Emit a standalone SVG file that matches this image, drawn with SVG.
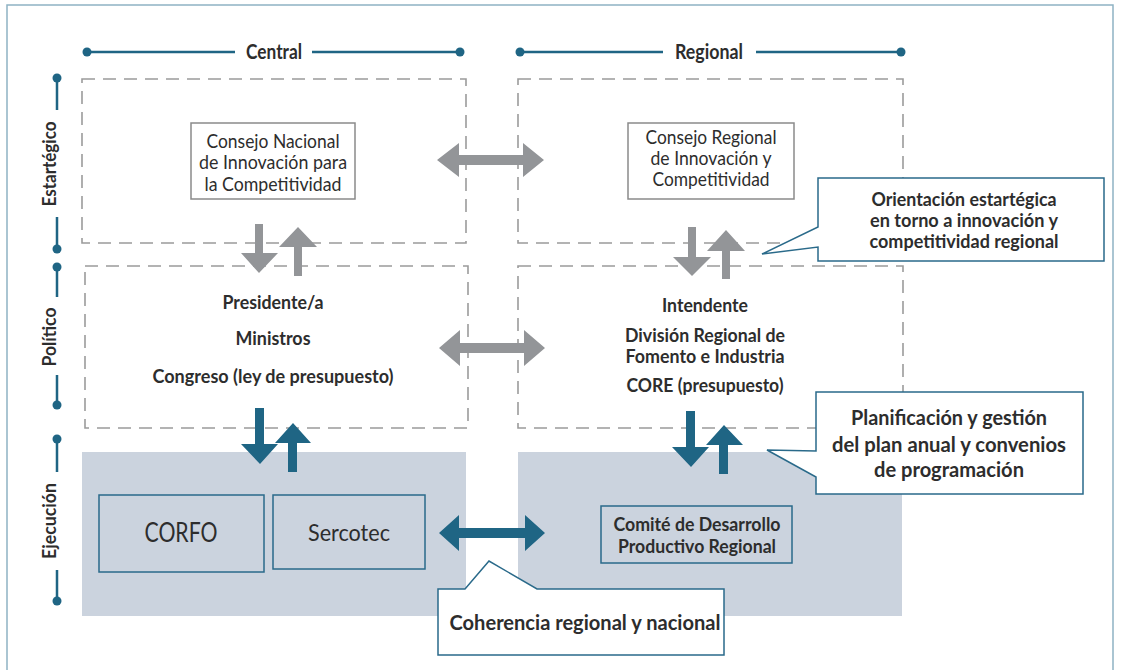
<svg xmlns="http://www.w3.org/2000/svg" width="1122" height="670" viewBox="0 0 1122 670">
<style>
text{font-family:Lato,"Liberation Sans",sans-serif;fill:#2d2d2d;}
.b{font-weight:bold;}
.dash{fill:none;stroke:#9b9b9b;stroke-width:1.6;stroke-dasharray:13 8;}
.shade{fill:#cbd3de;}
.axis{stroke:#1f6584;stroke-width:2.5;fill:none;}
.dot{fill:#1f6584;}
.garr{fill:#939598;}
.barr{fill:#1f6584;}
.gbox{fill:#fff;stroke:#8a8a8a;stroke-width:1.5;}
.bbox{fill:none;stroke:#2a6a8a;stroke-width:1.5;}
.call{fill:#fff;stroke:#2a6a8a;stroke-width:1.5;}
</style>
<rect width="1122" height="670" fill="#fff"/>
<path d="M7,680 V5 H1113 V680" fill="none" stroke="#8fb3c4" stroke-width="1.5"/>

<g id="headers">
<path class="axis" d="M87,52 H235 M312,52 H460"/>
<circle class="dot" cx="87" cy="52" r="4.5"/><circle class="dot" cx="460" cy="52" r="4.5"/>
<text class="b" x="274" y="59" font-size="20" text-anchor="middle" textLength="56" lengthAdjust="spacingAndGlyphs">Central</text>
<path class="axis" d="M520,52 H663 M756,52 H901"/>
<circle class="dot" cx="520" cy="52" r="4.5"/><circle class="dot" cx="901" cy="52" r="4.5"/>
<text class="b" x="709" y="59" font-size="20" text-anchor="middle" textLength="68" lengthAdjust="spacingAndGlyphs">Regional</text>
</g>

<g id="axis">
<path class="axis" d="M57,78 V110 M57,217 V249 M57,267 V297 M57,375 V405 M57,439 V472 M57,570 V601"/>
<circle class="dot" cx="57" cy="78" r="4.5"/><circle class="dot" cx="57" cy="249" r="4.5"/>
<circle class="dot" cx="57" cy="267" r="4.5"/><circle class="dot" cx="57" cy="405" r="4.5"/>
<circle class="dot" cx="57" cy="439" r="4.5"/><circle class="dot" cx="57" cy="601" r="4.5"/>
<text class="b" transform="translate(56,164) rotate(-90)" font-size="18" text-anchor="middle" textLength="85" lengthAdjust="spacingAndGlyphs">Estartégico</text>
<text class="b" transform="translate(56,337) rotate(-90)" font-size="18" text-anchor="middle" textLength="59" lengthAdjust="spacingAndGlyphs">Político</text>
<text class="b" transform="translate(56,521) rotate(-90)" font-size="18" text-anchor="middle" textLength="76" lengthAdjust="spacingAndGlyphs">Ejecución</text>
</g>

<g id="areas">
<rect class="dash" x="82" y="79" width="384" height="164"/>
<rect class="dash" x="518" y="79" width="385" height="164"/>
<rect class="dash" x="85" y="266" width="383" height="162"/>
<rect class="dash" x="518" y="266" width="385" height="162"/>
<rect class="shade" x="82" y="452" width="384" height="164"/>
<rect class="shade" x="518" y="452" width="384" height="164"/>
</g>

<g id="consejo-nacional">
<rect class="gbox" x="191" y="123" width="164" height="76"/>
<text x="273" y="148" font-size="19" text-anchor="middle" textLength="133" lengthAdjust="spacingAndGlyphs">Consejo Nacional</text>
<text x="273" y="169" font-size="19" text-anchor="middle" textLength="148" lengthAdjust="spacingAndGlyphs">de Innovación para</text>
<text x="273" y="191" font-size="19" text-anchor="middle" textLength="137" lengthAdjust="spacingAndGlyphs">la Competitividad</text>
</g>

<g id="consejo-regional">
<rect class="gbox" x="628" y="123" width="166" height="76"/>
<text x="711" y="144" font-size="19" text-anchor="middle" textLength="131" lengthAdjust="spacingAndGlyphs">Consejo Regional</text>
<text x="711" y="165" font-size="19" text-anchor="middle" textLength="121" lengthAdjust="spacingAndGlyphs">de Innovación y</text>
<text x="711" y="186" font-size="19" text-anchor="middle" textLength="117" lengthAdjust="spacingAndGlyphs">Competitividad</text>
</g>

<g id="politico-central">
<text class="b" x="273" y="309" font-size="18" text-anchor="middle" textLength="101" lengthAdjust="spacingAndGlyphs">Presidente/a</text>
<text class="b" x="273" y="345" font-size="18" text-anchor="middle" textLength="75" lengthAdjust="spacingAndGlyphs">Ministros</text>
<text class="b" x="273" y="383" font-size="18" text-anchor="middle" textLength="241" lengthAdjust="spacingAndGlyphs">Congreso (ley de presupuesto)</text>
</g>

<g id="politico-regional">
<text class="b" x="705" y="312" font-size="18" text-anchor="middle" textLength="86" lengthAdjust="spacingAndGlyphs">Intendente</text>
<text class="b" x="705" y="342" font-size="18" text-anchor="middle" textLength="160" lengthAdjust="spacingAndGlyphs">División Regional de</text>
<text class="b" x="705" y="363" font-size="18" text-anchor="middle" textLength="159" lengthAdjust="spacingAndGlyphs">Fomento e Industria</text>
<text class="b" x="705" y="392" font-size="18" text-anchor="middle" textLength="157" lengthAdjust="spacingAndGlyphs">CORE (presupuesto)</text>
</g>

<g id="corfo">
<rect class="bbox" x="99" y="495" width="165" height="77"/>
<text x="181" y="542" font-size="26" text-anchor="middle" textLength="73" lengthAdjust="spacingAndGlyphs">CORFO</text>
</g>
<g id="sercotec">
<rect class="bbox" x="273" y="495" width="152" height="74"/>
<text x="349" y="541" font-size="23" text-anchor="middle" textLength="82" lengthAdjust="spacingAndGlyphs">Sercotec</text>
</g>
<g id="comite">
<rect class="bbox" x="601" y="506" width="191" height="57"/>
<text class="b" x="697" y="531" font-size="18" text-anchor="middle" textLength="167" lengthAdjust="spacingAndGlyphs">Comité de Desarrollo</text>
<text class="b" x="697" y="553" font-size="18" text-anchor="middle" textLength="158" lengthAdjust="spacingAndGlyphs">Productivo Regional</text>
</g>

<g id="connectors">
<polygon class="garr" points="437,160 459,143 459,155 523,155 523,143 544,160 523,177 523,165 459,165 459,177"/>
<polygon class="garr" points="439,348 460,330 460,343 524,343 524,330 545,348 524,366 524,353 460,353 460,366"/>
<polygon class="barr" points="439,533 459,515 459,528 525,528 525,515 545,533 525,551 525,538 459,538 459,551"/>
<polygon class="garr" points="255,224 263,224 263,253 278,253 259,273 241,253 255,253"/>
<polygon class="garr" points="298,227 317,247 302,247 302,276 294,276 294,247 279,247"/>
<polygon class="garr" points="688,227 696,227 696,257 711,257 692,276 673,257 688,257"/>
<polygon class="garr" points="726,230 745,251 730,251 730,279 722,279 722,251 707,251"/>
<polygon class="barr" points="255,408 264,408 264,444 278,444 260,464 241,444 255,444"/>
<polygon class="barr" points="293,423 311,443 297,443 297,472 288,472 288,443 275,443"/>
<polygon class="barr" points="686,411 695,411 695,447 709,447 691,467 672,447 686,447"/>
<polygon class="barr" points="724,425 743,445 728,445 728,474 719,474 719,445 706,445"/>
</g>

<g id="callout-orientacion">
<path class="call" d="M818,178 H1104 V261 H818 V247 L762,254 L818,227 Z"/>
<text class="b" x="964" y="206" font-size="18" text-anchor="middle" textLength="185" lengthAdjust="spacingAndGlyphs">Orientación estartégica</text>
<text class="b" x="964" y="227" font-size="18" text-anchor="middle" textLength="188" lengthAdjust="spacingAndGlyphs">en torno a innovación y</text>
<text class="b" x="964" y="248" font-size="18" text-anchor="middle" textLength="189" lengthAdjust="spacingAndGlyphs">competitividad regional</text>
</g>

<g id="callout-planificacion">
<path class="call" d="M816,392 H1083 V494 H816 V477 L767,450 L816,451 Z"/>
<text class="b" x="949" y="425" font-size="21" text-anchor="middle" textLength="196" lengthAdjust="spacingAndGlyphs">Planificación y gestión</text>
<text class="b" x="949" y="452" font-size="21" text-anchor="middle" textLength="234" lengthAdjust="spacingAndGlyphs">del plan anual y convenios</text>
<text class="b" x="949" y="477" font-size="21" text-anchor="middle" textLength="150" lengthAdjust="spacingAndGlyphs">de programación</text>
</g>

<g id="callout-coherencia">
<path class="call" d="M438,589 H465 L489,561 L537,589 H724 V655 H438 Z"/>
<text class="b" x="585" y="630" font-size="21" text-anchor="middle" textLength="271" lengthAdjust="spacingAndGlyphs">Coherencia regional y nacional</text>
</g>
</svg>
